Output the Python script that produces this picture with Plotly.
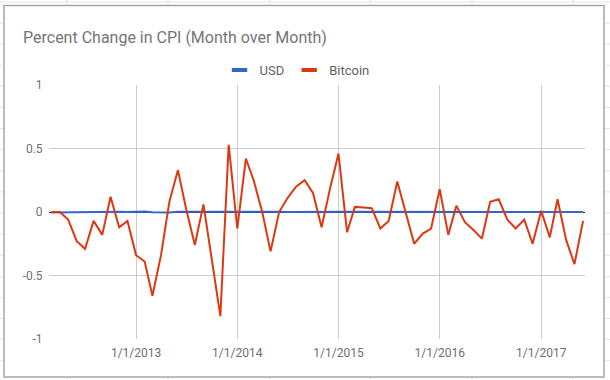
import plotly.graph_objects as go

# ---------------- data ----------------
months = [
    "2012-03-01", "2012-04-01", "2012-05-01", "2012-06-01", "2012-07-01", "2012-08-01",
    "2012-09-01", "2012-10-01", "2012-11-01", "2012-12-01",
    "2013-01-01", "2013-02-01", "2013-03-01", "2013-04-01", "2013-05-01", "2013-06-01",
    "2013-07-01", "2013-08-01", "2013-09-01", "2013-10-01", "2013-11-01", "2013-12-01",
    "2014-01-01", "2014-02-01", "2014-03-01", "2014-04-01", "2014-05-01", "2014-06-01",
    "2014-07-01", "2014-08-01", "2014-09-01", "2014-10-01", "2014-11-01", "2014-12-01",
    "2015-01-01", "2015-02-01", "2015-03-01", "2015-04-01", "2015-05-01", "2015-06-01",
    "2015-07-01", "2015-08-01", "2015-09-01", "2015-10-01", "2015-11-01", "2015-12-01",
    "2016-01-01", "2016-02-01", "2016-03-01", "2016-04-01", "2016-05-01", "2016-06-01",
    "2016-07-01", "2016-08-01", "2016-09-01", "2016-10-01", "2016-11-01", "2016-12-01",
    "2017-01-01", "2017-02-01", "2017-03-01", "2017-04-01", "2017-05-01", "2017-06-01",
]

usd = [
    -0.004, -0.003, -0.003, -0.002, 0.000, 0.003, 0.004, 0.002, 0.001, 0.000,
    0.002, 0.004, -0.002, -0.004, -0.003, 0.001, 0.002, 0.001, 0.001, 0.000, 0.000, 0.001,
    0.002, 0.002, 0.003, 0.002, 0.002, 0.001, 0.000, 0.000, 0.001, 0.000, -0.001, -0.002,
    -0.004, 0.001, 0.002, 0.002, 0.003, 0.002, 0.001, 0.000, 0.000, 0.000, 0.000, -0.001,
    0.001, 0.002, 0.002, 0.003, 0.003, 0.002, 0.001, 0.001, 0.002, 0.002, 0.001, 0.002,
    0.003, 0.001, -0.001, 0.002, 0.000, 0.000,
]

bitcoin = [
    0.0, 0.0, -0.06, -0.23, -0.29, -0.07, -0.18, 0.12, -0.12, -0.07,
    -0.34, -0.39, -0.66, -0.34, 0.08, 0.33, 0.02, -0.26, 0.06, -0.38, -0.82, 0.53,
    -0.13, 0.42, 0.25, 0.0, -0.31, 0.0, 0.11, 0.20, 0.25, 0.15, -0.12, 0.18,
    0.46, -0.16, 0.04, 0.035, 0.03, -0.13, -0.07, 0.24, 0.0, -0.25, -0.17, -0.13,
    0.18, -0.18, 0.05, -0.08, -0.14, -0.21, 0.08, 0.10, -0.06, -0.13, -0.06, -0.25,
    0.01, -0.20, 0.10, -0.22, -0.41, -0.07,
]

series_names = ["USD", "Bitcoin"]
series_colors = ["#3366cc", "#dc3912"]

x_tickvals = ["2013-01-01", "2014-01-01", "2015-01-01", "2016-01-01", "2017-01-01"]
x_ticktext = ["1/1/2013", "1/1/2014", "1/1/2015", "1/1/2016", "1/1/2017"]
y_tickvals = [-1, -0.5, 0, 0.5, 1]
y_ticktext = ["-1", "-0.5", "0", "0.5", "1"]

title_text = "Percent Change in CPI (Month over Month)"

# ---------------- layout geometry ----------------
W, H = 610, 380
ML, MR, MT, MB = 49, 25, 85, 41
PW, PH = W - ML - MR, H - MT - MB


def px_x(p):
    return (p - ML) / PW


def px_y(p):
    return (H - MB - p) / PH


FONT = "Roboto, Arial, sans-serif"

fig = go.Figure()

for name, vals, col in zip(series_names, [usd, bitcoin], series_colors):
    fig.add_trace(go.Scatter(
        x=months, y=vals, mode="lines", name=name,
        line=dict(color=col, width=2), showlegend=False,
        hoverinfo="x+y+name",
    ))

# legend entries (short thick line symbols)
for name, col in zip(series_names, series_colors):
    fig.add_trace(go.Scatter(
        x=[None], y=[None], mode="markers", name=name,
        marker=dict(symbol="line-ew", size=11, color=col,
                    line=dict(color=col, width=4)),
        showlegend=True,
    ))

# spreadsheet background lines and chart frame
shapes = []
sheet_col = "#e3e3e3"
for cx in [67, 168, 270, 370, 472, 573]:
    shapes.append(dict(type="line", xref="paper", yref="paper",
                       x0=px_x(cx), x1=px_x(cx), y0=px_y(0), y1=px_y(5),
                       line=dict(color=sheet_col, width=1), layer="below"))
    shapes.append(dict(type="line", xref="paper", yref="paper",
                       x0=px_x(cx), x1=px_x(cx), y0=px_y(377), y1=px_y(380),
                       line=dict(color=sheet_col, width=1), layer="below"))
shapes.append(dict(type="line", xref="paper", yref="paper",
                   x0=px_x(0), x1=px_x(610), y0=px_y(2), y1=px_y(2),
                   line=dict(color=sheet_col, width=1), layer="below"))
ry = 23.1
while ry < 378:
    shapes.append(dict(type="line", xref="paper", yref="paper",
                       x0=px_x(0), x1=px_x(4), y0=px_y(ry), y1=px_y(ry),
                       line=dict(color=sheet_col, width=1), layer="below"))
    shapes.append(dict(type="line", xref="paper", yref="paper",
                       x0=px_x(604), x1=px_x(610), y0=px_y(ry), y1=px_y(ry),
                       line=dict(color=sheet_col, width=1), layer="below"))
    ry += 21.1
shapes.append(dict(type="rect", xref="paper", yref="paper",
                   x0=px_x(4), x1=px_x(604), y0=px_y(5.5), y1=px_y(377),
                   line=dict(color="#a6a6a6", width=1.5), fillcolor="rgba(0,0,0,0)"))

fig.update_layout(
    width=W, height=H,
    margin=dict(l=ML, r=MR, t=MT, b=MB, pad=0),
    paper_bgcolor="white", plot_bgcolor="white",
    font=dict(family=FONT, size=12, color="#6f6f6f"),
    title=dict(text=title_text, xref="container", yref="container",
               x=23 / W, xanchor="left", y=1 - 37 / H, yanchor="middle",
               font=dict(family=FONT, size=16, color="#757575")),
    legend=dict(orientation="h", xref="paper", yref="paper",
                x=px_x(297), xanchor="center", y=px_y(70), yanchor="middle",
                font=dict(family=FONT, size=13, color="#616161"),
                bgcolor="rgba(0,0,0,0)", itemwidth=30, tracegroupgap=0),
    shapes=shapes,
    showlegend=True,
    hovermode="closest",
)

fig.update_xaxes(
    type="date", range=["2012-02-22", "2017-06-08"],
    tickvals=x_tickvals, ticktext=x_ticktext,
    showgrid=True, gridcolor="#cccccc", gridwidth=1,
    zeroline=False, showline=False,
    ticks="outside", ticklen=3, tickcolor="rgba(0,0,0,0)",
    tickfont=dict(family=FONT, size=12, color="#6f6f6f"),
    automargin=False,
)
fig.update_yaxes(
    range=[-1, 1], tickvals=y_tickvals, ticktext=y_ticktext,
    showgrid=True, gridcolor="#cccccc", gridwidth=1,
    zeroline=True, zerolinecolor="#333333", zerolinewidth=1,
    showline=False,
    ticks="outside", ticklen=3, tickcolor="rgba(0,0,0,0)",
    tickfont=dict(family=FONT, size=12, color="#6f6f6f"),
    automargin=False,
)

fig.write_html(
    "out.html",
    config={"displayModeBar": False},
    post_script="document.body.style.margin='0';document.body.style.padding='0';"
                "document.body.style.overflow='hidden';",
)
